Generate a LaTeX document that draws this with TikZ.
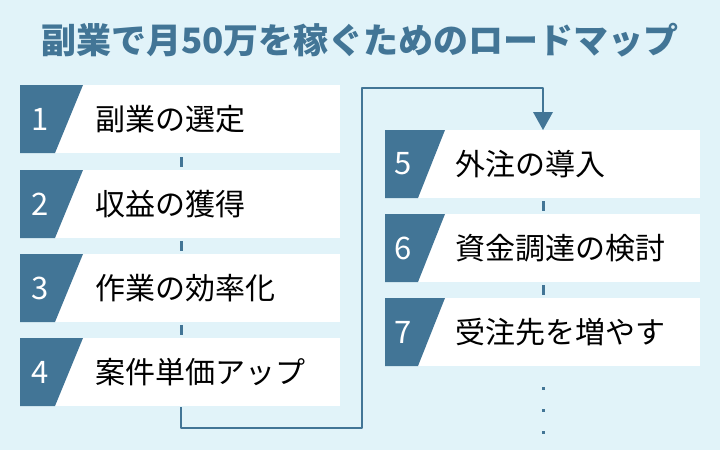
\documentclass[tikz,border=0pt]{standalone}
\usepackage{fontspec}
\setmainfont{Noto Sans CJK JP}
\definecolor{bg}{HTML}{E1F3F9}
\definecolor{dk}{HTML}{427596}
\begin{document}
\begin{tikzpicture}[x=1pt,y=-1pt,
  card/.style={fill=white,draw=none},
  lbl/.style={anchor=west,font=\fontsize{30}{32}\selectfont,text=black,inner sep=0},
  num/.style={font=\fontsize{31}{33}\selectfont,text=white,inner sep=0},
  link/.style={draw=dk,line width=2.6pt}]
\fill[bg] (0,0) rectangle (720,450);
\useasboundingbox (0,0) rectangle (720,450);
\node[font=\fontsize{35}{38}\selectfont\bfseries,text=dk] (title) at (360,40) {副業で月50万を稼ぐためのロードマップ};
% left column
\foreach \i/\t/\yy in {1/副業の選定/85,2/収益の獲得/170,3/作業の効率化/254,4/案件単価アップ/338}{
  \fill[card] (20,\yy) rectangle (340,\yy+68);
  \fill[dk] (20,\yy) -- (83,\yy) -- (55,\yy+68) -- (20,\yy+68) -- cycle;
  \node[num] (n\i) at (40,\yy+34) {\i};
  \node[lbl] (t\i) at (95,\yy+34) {\t};
}
% right column
\foreach \i/\t/\yy in {5/外注の導入/130,6/資金調達の検討/214,7/受注先を増やす/298}{
  \fill[card] (385,\yy) rectangle (700,\yy+68);
  \fill[dk] (385,\yy) -- (445,\yy) -- (418,\yy+68) -- (385,\yy+68) -- cycle;
  \node[num] (n\i) at (403,\yy+34) {\i};
  \node[lbl] (t\i) at (455,\yy+34) {\t};
}
% connectors between cards
\foreach \yy in {154,238,322}{ \fill[dk] (179.5,\yy+3) rectangle (182.5,\yy+13); }
\foreach \yy in {198,282}{ \fill[dk] (541.5,\yy+3) rectangle (544.5,\yy+13); }
\coordinate (a0) at (181,407);
\coordinate (a1) at (181,428);
\coordinate (a2) at (362,428);
\coordinate (a3) at (362,88);
\coordinate (a4) at (543,88);
\coordinate (a5) at (543,128);
\draw[link,line join=round] (a0) -- (a1) -- (a2) -- (a3) -- (a4) -- (a5);
\fill[dk] (533,112) -- (553,112) -- (543,130) -- cycle;
\foreach \yy in {388,410,432}{ \fill[dk] (541.5,\yy-1.5) rectangle (544.5,\yy+1.5); }
\end{tikzpicture}
\end{document}
